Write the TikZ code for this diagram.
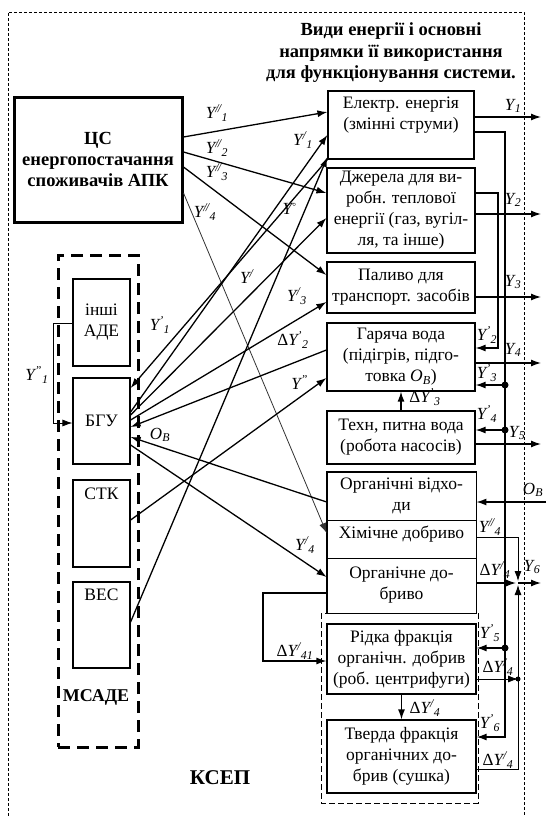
\documentclass[tikz,border=0pt]{standalone}
\usepackage{fontspec}
\setmainfont{Liberation Serif}
\usetikzlibrary{arrows.meta}

\newcommand{\bx}{\fontsize{17.5}{21}\selectfont}
\newcommand{\lb}{\fontsize{17}{19}\selectfont}
\newcommand{\Yl}[2]{\textit{Y\textsuperscript{#1}\textsubscript{#2}}}
\newcommand{\dsl}{/\kern-.08em/}
\newcommand{\OB}{\textit{O}\textsubscript{\textit{B}}}

\begin{document}
\begin{tikzpicture}[x=1pt,y=-1pt,>={Latex[length=10pt,width=7pt]},
  box/.style={draw,line width=1.2pt,align=center,inner sep=0pt,font=\bx},
  txt/.style={align=center,inner sep=0pt,font=\bx},
  lbl/.style={inner sep=0pt,font=\lb},
  con/.style={->,line width=1.3pt},
  fine/.style={line width=0.8pt}]
\useasboundingbox (0,0) rectangle (546,816);
\draw[line width=0.7pt,dash pattern=on 3pt off 2pt] (8,816) -- (8,12) -- (524,12) -- (524,816);

\node[txt,font=\fontsize{18.5}{21.5}\selectfont\bfseries] (title) at (391,53) {Види енергії і основні\\напрямки її використання\\для функціонування системи.};
\node[box,line width=3pt,minimum width=168,minimum height=125,font=\fontsize{18.5}{21}\selectfont\bfseries] (cs) at (98,159.5) {ЦС\\енергопостачання\\споживачів АПК};

\node[box,minimum width=146,minimum height=68] (el) at (401,125) {};
\node[txt] (el-t) at (401,115.5) {Електр. енергія\\(змінні струми)};
\node[box,minimum width=148,minimum height=85] (dz) at (401,210.5) {Джерела для ви-\\робн. теплової\\енергії (газ, вугіл-\\ля, та інше)};
\node[box,minimum width=148,minimum height=51] (pal) at (401,287.5) {Паливо для\\транспорт. засобів};
\node[box,minimum width=148,minimum height=68] (hv) at (401,357) {Гаряча вода\\(підігрів, підго-\\товка \OB)};
\node[box,minimum width=148,minimum height=53] (tv) at (401,437.5) {Техн, питна вода\\(робота насосів)};
\node[box,line width=0.8pt,minimum width=149,minimum height=48] (ov) at (401.5,496) {Органічні відхо-\\ди};
\node[box,line width=0.8pt,minimum width=149,minimum height=38] (ch) at (401.5,539) {};
\node[txt] (ch-t) at (401.5,534) {Хімічне добриво};
\node[box,line width=0.8pt,minimum width=149,minimum height=55] (od) at (401.5,585.5) {Органічне до-\\бриво};
\draw[line width=1.2pt] (ov.north west) rectangle (od.south east);
\draw[line width=1pt,dash pattern=on 6pt off 3pt] (321,613) rectangle (478,803);
\node[box,minimum width=149,minimum height=70] (rf) at (401.5,659) {Рідка фракція\\органічн. добрив\\(роб. центрифуги)};
\node[box,minimum width=149,minimum height=73] (tf) at (401.5,756.5) {Тверда фракція\\органічних до-\\брив (сушка)};

\node[draw,line width=3pt,dash pattern=on 12pt off 7pt,minimum width=80,minimum height=492] (msade) at (98,501) {};
\node[txt,font=\fontsize{18}{21}\selectfont\bfseries] (msade-t) at (96,697) {МСАДЕ};
\node[box,minimum width=57,minimum height=87] (inshi) at (101.5,322.5) {інші\\АДЕ};
\node[box,minimum width=57,minimum height=86] (bgu) at (101.5,421) {БГУ};
\node[box,minimum width=57,minimum height=87] (stk) at (101.5,523.5) {};
\node[txt] (stk-t) at (101.5,494) {СТК};
\node[box,minimum width=57,minimum height=86] (ves) at (101.5,625) {};
\node[txt] (ves-t) at (101.5,595) {ВЕС};
\node[txt,font=\fontsize{21}{24}\selectfont\bfseries] (ksep) at (220,778) {КСЕП};

\coordinate (edge) at (541,0);
\coordinate (bus) at (505,132);
\coordinate (bus2) at (498,193);
\coordinate (j6) at (518,583);
\coordinate (ob) at (546,502);
\coordinate (lp) at (263,593);
\coordinate (lp2) at (53,323);

\draw[con] (cs.east|-0,137) -- (el.west|-0,112);
\draw[con] (cs.east|-0,152) -- (dz.west|-0,193);
\draw[con] (cs.east|-0,167) -- (pal.west|-0,275);
\draw[->,fine,black!80] (cs.east|-0,193) -- (ch.west|-0,533);
\draw[con] (bgu.east|-0,412) -- (el.west|-0,135);
\draw[con] (ves.east|-0,622) -- (el.west|-0,157);
\draw[con] (el.south west) -- (bgu.east|-0,388);
\draw[con] (bgu.east|-0,415) -- (dz.west|-0,218);
\draw[con] (bgu.east|-0,420) -- (pal.west|-0,302);
\draw[con] (hv.west|-0,350) -- (bgu.east|-0,427);
\draw[con] (stk.east|-0,520) -- (hv.west|-0,378);
\draw[con] (ov.west|-0,502) -- (bgu.east|-0,437);
\draw[con] (bgu.east|-0,445) -- (od.west|-0,577);
\draw[->,fine] (inshi.west|-lp2) -- (lp2) -- (lp2|-0,423) -- (bgu.west|-0,423);

\draw[con] (el.east|-0,117) -- (edge|-0,117);
\draw[con] (dz.east|-0,214) -- (edge|-0,214);
\draw[con] (pal.east|-0,297) -- (edge|-0,297);
\draw[con] (hv.east|-0,363) -- (edge|-0,363);
\draw[con] (tv.east|-0,444) -- (edge|-0,444);
\draw[con] (ob) -- (ov.east|-ob);
\draw[con] (el.east|-bus) -- (bus) -- (bus|-0,737) -- (tf.east|-0,737);
\draw[con] (bus|-0,385) -- (hv.east|-0,385);
\draw[con] (bus|-0,430) -- (tv.east|-0,430);
\draw[con] (bus|-0,648) -- (rf.east|-0,648);
\fill (bus|-0,385) circle (3.5pt);
\fill (bus|-0,430) circle (3.5pt);
\fill (bus|-0,648) circle (3.5pt);
\draw[con] (dz.east|-bus2) -- (bus2) -- (bus2|-0,348) -- (hv.east|-0,348);
\draw[con] (tv.north) -- (hv.south);
\draw[con] (rf.south) -- (tf.north);
\draw[con] (od.west|-lp) -- (lp) -- (lp|-0,661) -- (rf.west|-0,661);

\draw[->,fine,shorten >=2pt] (ch.east|-0,537) -- (j6|-0,537) -- (j6);
\draw[con,shorten >=2pt] (od.east|-j6) -- (j6);
\draw[con] (j6) -- (edge|-j6);
\draw[->,fine] (rf.east|-0,679) -- (j6|-0,679);
\fill (j6|-0,679) circle (2.5pt);
\draw[->,fine,shorten >=2pt] (tf.east|-0,769) -- (j6|-0,769) -- (j6);

\node[lbl] (l-y1a) at (217,113) {\Yl{\dsl}{1}};
\node[lbl] (l-y2a) at (217,148) {\Yl{\dsl}{2}};
\node[lbl] (l-y3a) at (217,172) {\Yl{\dsl}{3}};
\node[lbl] (l-y4a) at (205,212) {\Yl{\dsl}{4}};
\node[lbl] (l-y1b) at (303,140) {\Yl{/}{1}};
\node[lbl] (l-y0) at (290,210) {\Yl{\textopenbullet}{}};
\node[lbl] (l-yb) at (247,278) {\Yl{/}{}};
\node[lbl] (l-y3b) at (297,296) {\Yl{/}{3}};
\node[lbl] (l-dy2) at (293,340) {Δ\Yl{'}{2}};
\node[lbl] (l-yy) at (300,384) {\Yl{''}{}};
\node[lbl] (l-y1c) at (160,325) {\Yl{'}{1}};
\node[lbl] (l-ob) at (160,435) {\OB};
\node[lbl] (l-y4b) at (305,545) {\Yl{/}{4}};
\node[lbl] (l-y1d) at (37,375) {\Yl{''}{1}};
\node[lbl] (l-y1) at (513,106) {\Yl{}{1}};
\node[lbl] (l-y2) at (513,200) {\Yl{}{2}};
\node[lbl] (l-y3) at (513,282) {\Yl{}{3}};
\node[lbl] (l-y2c) at (487,335) {\Yl{'}{2}};
\node[lbl] (l-y4) at (513,350) {\Yl{}{4}};
\node[lbl] (l-y3c) at (487,373) {\Yl{'}{3}};
\node[lbl] (l-dy3) at (425,397) {Δ\Yl{'}{3}};
\node[lbl] (l-y4c) at (487,414) {\Yl{'}{4}};
\node[lbl] (l-y5) at (517,433) {\Yl{}{5}};
\node[lbl] (l-ob2) at (533,490) {\OB};
\node[lbl] (l-y4d) at (490,527) {\Yl{\dsl}{4}};
\node[lbl] (l-dy4a) at (495,570) {Δ\Yl{/}{4}};
\node[lbl] (l-y6) at (532,567) {\Yl{}{6}};
\node[lbl] (l-y5c) at (490,633) {\Yl{'}{5}};
\node[lbl] (l-dy4b) at (498,667) {Δ\Yl{/}{4}};
\node[lbl] (l-dy41) at (295,651) {Δ\Yl{/}{41}};
\node[lbl] (l-dy4c) at (425,708) {Δ\Yl{/}{4}};
\node[lbl] (l-y6c) at (490,723) {\Yl{'}{6}};
\node[lbl] (l-dy4d) at (498,760) {Δ\Yl{/}{4}};
\end{tikzpicture}
\end{document}
